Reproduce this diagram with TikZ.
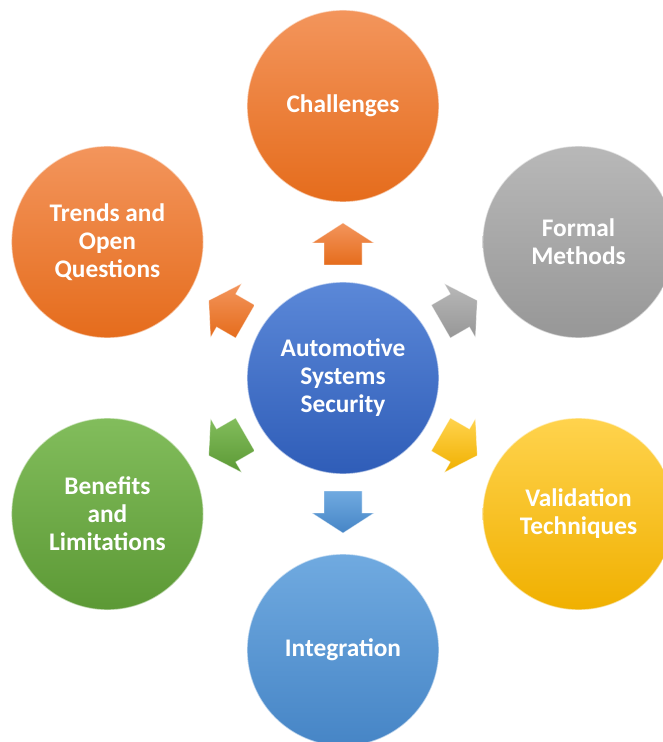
\documentclass[tikz,border=0pt]{standalone}
\usepackage{fontspec}
\setmainfont{Carlito}
\usepackage{tikz}
\usetikzlibrary{calc}

\definecolor{orangeA}{HTML}{F3955C}
\definecolor{orangeB}{HTML}{E56C1C}
\definecolor{coreA}{HTML}{5B88D8}
\definecolor{coreB}{HTML}{2F5DB8}
\definecolor{grayA}{HTML}{B8B8B8}
\definecolor{grayB}{HTML}{979797}
\definecolor{goldA}{HTML}{FFD34D}
\definecolor{goldB}{HTML}{F0B000}
\definecolor{skyA}{HTML}{70AAE0}
\definecolor{skyB}{HTML}{4685C6}
\definecolor{leafA}{HTML}{82BD5C}
\definecolor{leafB}{HTML}{5C9935}

\tikzset{
  topic/.style={circle, minimum size=144pt, inner sep=0pt, align=center,
    text=white, font=\fontsize{19}{21}\selectfont\bfseries,
    draw=white, draw opacity=0.55, line width=1pt},
  pointer/.style={draw=white, draw opacity=0.45, line width=0.5pt},
}

% block arrow: angle, top colour, bottom colour
\newcommand{\outarrow}[3]{%
  \shade[pointer, top color=#2, bottom color=#3]
    ($(#1:113)+(#1+90:19)$) -- ($(#1:135)+(#1+90:19)$) -- ($(#1:135)+(#1+90:31)$)
    -- (#1:155) -- ($(#1:135)+(#1-90:31)$) -- ($(#1:135)+(#1-90:19)$)
    -- ($(#1:113)+(#1-90:19)$) -- cycle;}

\begin{document}
\begin{tikzpicture}[x=0.75pt,y=0.75pt]
  \useasboundingbox (-343,-364) rectangle (319,378);

  \draw (0,0) node[topic, top color=coreA, bottom color=coreB] (core) {Automotive\\Systems\\Security};

  \draw (90:272) node[topic, top color=orangeA, bottom color=orangeB] (chal) {Challenges};
  \draw (30:272) node[topic, top color=grayA, bottom color=grayB] (formal) {Formal\\Methods};
  \draw (-30:272) node[topic, top color=goldA, bottom color=goldB] (valid) {Validation\\Techniques};
  \draw (-90:272) node[topic, top color=skyA, bottom color=skyB] (integ) {Integration};
  \draw (210:272) node[topic, top color=leafA, bottom color=leafB] (bene) {Benefits\\and\\Limitations};
  \draw (150:272) node[topic, top color=orangeA, bottom color=orangeB] (trends) {Trends and\\Open\\Questions};

  % arrows out of the core
  \outarrow{90}{orangeA}{orangeB}
  \outarrow{30}{grayA}{grayB}
  \outarrow{-30}{goldA}{goldB}
  \outarrow{-90}{skyA}{skyB}
  \outarrow{210}{leafA}{leafB}
  \outarrow{150}{orangeA}{orangeB}

\end{tikzpicture}
\end{document}
